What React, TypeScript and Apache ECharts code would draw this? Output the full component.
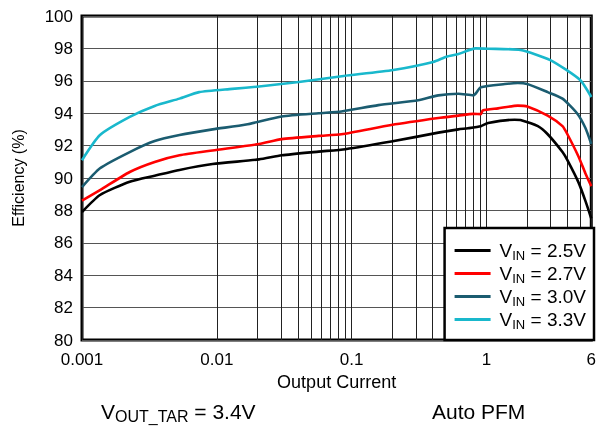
import React, { useEffect, useRef } from "react";
import * as echarts from "echarts";

// Output current (A) vs efficiency (%)
const vin25: [number, number][] = [
  [0.001, 87.9], [0.00136, 88.95], [0.00226, 89.77], [0.00346, 90.14], [0.00529, 90.5],
  [0.0093, 90.86], [0.0206, 91.15], [0.0303, 91.4], [0.057, 91.63], [0.09, 91.78],
  [0.197, 92.25], [0.44, 92.8], [0.62, 93.0], [0.73, 93.07], [0.91, 93.2], [1.03, 93.4],
  [1.62, 93.6], [1.79, 93.58], [2.41, 93.2], [2.85, 92.7], [3.67, 91.6], [3.99, 91.1],
  [4.84, 89.7], [5.42, 88.6], [6.0, 87.5],
];
const vin27: [number, number][] = [
  [0.001, 88.6], [0.00136, 89.25], [0.00226, 90.37], [0.00346, 90.99], [0.00529, 91.4],
  [0.0093, 91.7], [0.0206, 92.1], [0.0303, 92.4], [0.057, 92.6], [0.084, 92.7],
  [0.197, 93.27], [0.44, 93.7], [0.62, 93.85], [0.8, 93.96], [0.91, 93.94], [0.94, 94.17],
  [1.22, 94.3], [1.71, 94.47], [2.01, 94.42], [2.85, 93.85], [3.67, 93.2], [3.99, 92.7],
  [4.84, 91.3], [5.42, 90.3], [6.0, 89.5],
];
const vin30: [number, number][] = [
  [0.001, 89.44], [0.00136, 90.6], [0.00226, 91.6], [0.00346, 92.28], [0.00529, 92.65],
  [0.0093, 93.0], [0.0165, 93.3], [0.0303, 93.8], [0.057, 94.0], [0.084, 94.1],
  [0.158, 94.5], [0.312, 94.8], [0.44, 95.1], [0.62, 95.2], [0.8, 95.1], [0.83, 95.2],
  [0.91, 95.6], [1.37, 95.8], [1.71, 95.86], [2.01, 95.8], [2.85, 95.3], [3.67, 94.9],
  [4.7, 94.0], [5.42, 93.1], [6.0, 92.1],
];
const vin33: [number, number][] = [
  [0.001, 91.1], [0.00136, 92.65], [0.00226, 93.77], [0.00346, 94.45], [0.00529, 94.9],
  [0.0074, 95.3], [0.013, 95.5], [0.0206, 95.65], [0.0406, 95.93], [0.0873, 96.3],
  [0.204, 96.67], [0.403, 97.16], [0.505, 97.49], [0.62, 97.65], [0.83, 98.0], [1.03, 97.98],
  [1.79, 97.9], [2.98, 97.28], [4.96, 96.05], [6.0, 95.0],
];

const seriesNames = ["2.5V", "2.7V", "3.0V", "3.3V"];
const seriesColors = ["#000000", "#ff0000", "#1b5c70", "#19b8cc"];
const minorGridCurrents = [
  0.002, 0.003, 0.004, 0.005, 0.006, 0.007, 0.008, 0.009,
  0.02, 0.03, 0.04, 0.05, 0.06, 0.07, 0.08, 0.09,
  0.2, 0.3, 0.4, 0.5, 0.6, 0.7, 0.8, 0.9,
  2, 3, 4, 5,
];

const FONT = "'Liberation Sans', Arial, sans-serif";

export default function App() {
  const ref = useRef<HTMLDivElement>(null);
  useEffect(() => {
    if (!ref.current) return;
    const chart = echarts.init(ref.current, undefined, { renderer: "svg" });
    const datasets = [vin25, vin27, vin30, vin33];
    const option: any = {
      animation: false,
      textStyle: { fontFamily: FONT },
      grid: {
        left: 82, right: 5, top: 16, bottom: 89,
        show: true, borderColor: "#000", borderWidth: 3, backgroundColor: "transparent",
      },
      xAxis: {
        type: "log",
        logBase: 10,
        min: 0.001,
        max: 6,
        name: "Output Current",
        nameLocation: "middle",
        nameGap: 29,
        nameTextStyle: { fontSize: 18, color: "#000", fontFamily: FONT },
        axisLine: { show: false },
        axisTick: { show: false },
        axisLabel: {
          fontSize: 17, color: "#000", margin: 11, fontFamily: FONT,
          formatter: (v: number) => String(Number(v.toPrecision(3))),
        },
        splitLine: { show: true, lineStyle: { color: "#222", width: 1 } },
      },
      yAxis: {
        type: "value",
        min: 80,
        max: 100,
        interval: 2,
        name: "Efficiency (%)",
        nameLocation: "middle",
        nameGap: 56,
        nameRotate: 90,
        nameTextStyle: { fontSize: 16, color: "#000", fontFamily: FONT },
        axisLine: { show: false },
        axisTick: { show: false },
        axisLabel: { fontSize: 17, color: "#000", margin: 9, fontFamily: FONT },
        splitLine: { show: true, lineStyle: { color: "#555", width: 1 } },
      },
      legend: {
        orient: "vertical",
        right: 5,
        bottom: 89,
        padding: [11, 8, 9, 10],
        itemGap: 0,
        itemWidth: 36,
        itemHeight: 3,
        icon: "rect",
        backgroundColor: "#fff",
        borderColor: "#000",
        borderWidth: 2.5,
        data: seriesNames,
        formatter: (name: string) => `{p|V}{s|IN}{v| = ${name}}`,
        textStyle: {
          color: "#000",
          fontFamily: FONT,
          rich: {
            p: { fontSize: 19, lineHeight: 19, padding: [0, 0, 0, 4], color: "#000", fontFamily: FONT },
            v: { fontSize: 19, lineHeight: 19, color: "#000", fontFamily: FONT },
            s: { fontSize: 13, lineHeight: 9, padding: [10, 0, 0, 0], color: "#000", fontFamily: FONT },
          },
        },
        selectedMode: false,
      },
      graphic: [
        {
          type: "text",
          left: 101,
          top: 399,
          style: {
            text: "{v|V}{s|OUT_TAR}{v| = 3.4V}",
            fill: "#000",
            rich: {
              v: { fontSize: 21, lineHeight: 24, fill: "#000", fontFamily: FONT },
              s: { fontSize: 16, lineHeight: 15, padding: [9, 0, 0, 0], fill: "#000", fontFamily: FONT },
            },
          },
        },
        {
          type: "text",
          left: 432,
          top: 401,
          style: { text: "Auto PFM", fontSize: 21, fill: "#000", fontFamily: FONT },
        },
      ],
      series: [
        {
          type: "line",
          name: "grid-minor",
          data: [],
          silent: true,
          z: 1,
          markLine: {
            silent: true,
            z: 1,
            symbol: ["none", "none"],
            label: { show: false },
            lineStyle: { color: "#222", width: 1, type: "solid" },
            emphasis: { disabled: true },
            data: minorGridCurrents.map((v) => ({ xAxis: v })),
          },
        },
        ...datasets.map((d, i) => ({
          type: "line",
          name: seriesNames[i],
          data: d,
          z: 3,
          symbol: "none",
          smooth: 0.2,
          lineStyle: { color: seriesColors[i], width: 2.6, join: "round" },
          itemStyle: { color: seriesColors[i] },
        })),
      ],
    };
    chart.setOption(option);
    return () => chart.dispose();
  }, []);
  return (
    <div
      ref={ref}
      style={{ position: "fixed", left: 0, top: 0, width: 599, height: 429 }}
    />
  );
}
